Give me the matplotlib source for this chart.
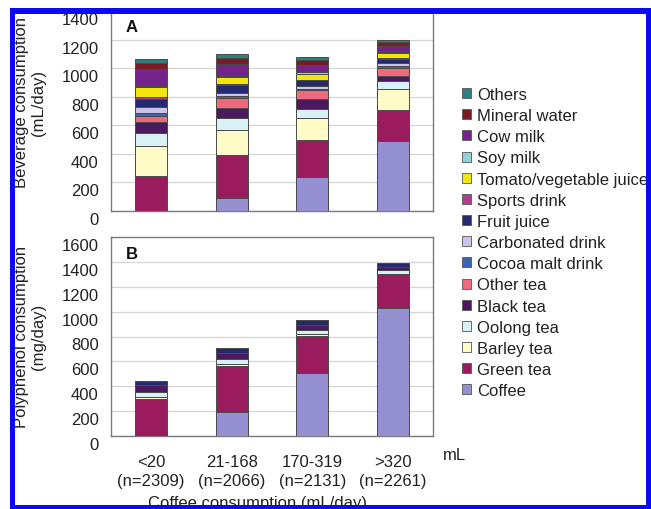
import matplotlib
matplotlib.use("Agg")
import matplotlib.pyplot as plt
import matplotlib.transforms as mtransforms
from matplotlib.patches import Patch, Rectangle
import numpy as np

plt.rcParams['font.family'] = ['Liberation Sans', 'DejaVu Sans']

categories = ['<20\n(n=2309)', '21-168\n(n=2066)', '170-319\n(n=2131)', '>320\n(n=2261)']

# stacking order bottom -> top
series_names = ['Coffee', 'Green tea', 'Barley tea', 'Oolong tea', 'Black tea', 'Other tea',
                'Cocoa malt drink', 'Carbonated drink', 'Fruit juice', 'Sports drink',
                'Tomato/vegetable juice', 'Soy milk', 'Cow milk', 'Mineral water', 'Others']
series_colors = ['#9590d2', '#9a1c5e', '#fffbc6', '#d8f1f4', '#4b1a5e', '#f0687c',
                 '#3b66b2', '#cbc4e8', '#232a6e', '#b0408f',
                 '#f3e60c', '#8fd2d8', '#74238a', '#7a1a22', '#2f7f80']

# Panel A: beverage consumption (mL/day)
coffee_A = [0, 88, 238, 490]
green_A = [245, 301, 257, 220]
barley_A = [210, 175, 156, 142]
oolong_A = [89, 84, 63, 58]
black_A = [82, 75, 70, 38]
othertea_A = [40, 65, 61, 54]
cocoa_A = [18, 16, 9, 16]
carbon_A = [47, 23, 23, 19]
fruit_A = [51, 54, 37, 28]
sports_A = [14, 9, 5, 5]
tomato_A = [70, 47, 42, 35]
soy_A = [9, 7, 9, 5]
cow_A = [119, 82, 54, 47]
mineral_A = [40, 47, 35, 23]
others_A = [28, 28, 19, 19]

# Panel B: polyphenol consumption (mg/day)
coffee_B = [0, 195, 504, 1030]
green_B = [301, 368, 304, 261]
barley_B = [13, 13, 13, 13]
oolong_B = [40, 40, 35, 30]
black_B = [60, 48, 35, 25]
othertea_B = [0, 0, 0, 0]
cocoa_B = [0, 0, 0, 0]
carbon_B = [0, 0, 0, 0]
fruit_B = [30, 45, 45, 32]
sports_B = [0, 0, 0, 0]
tomato_B = [0, 0, 0, 0]
soy_B = [0, 0, 0, 0]
cow_B = [0, 0, 0, 0]
mineral_B = [0, 0, 0, 0]
others_B = [0, 0, 0, 0]

data_A = [coffee_A, green_A, barley_A, oolong_A, black_A, othertea_A, cocoa_A, carbon_A,
          fruit_A, sports_A, tomato_A, soy_A, cow_A, mineral_A, others_A]
data_B = [coffee_B, green_B, barley_B, oolong_B, black_B, othertea_B, cocoa_B, carbon_B,
          fruit_B, sports_B, tomato_B, soy_B, cow_B, mineral_B, others_B]

W, H = 651, 510
fig = plt.figure(figsize=(W / 100, H / 100), dpi=100)
fig.patch.set_facecolor('white')

def fx(px):
    return px / W

def fy(py):
    return 1 - py / H

axA = fig.add_axes([fx(111), fy(212), fx(433) - fx(111), fy(12) - fy(212)])
axB = fig.add_axes([fx(111), fy(437), fx(433) - fx(111), fy(238) - fy(437)])

x = np.arange(len(categories))
txtc = '#222222'

def draw(ax, data, ymax):
    bottom = np.zeros(len(categories))
    for vals, col in zip(data, series_colors):
        v = np.array(vals, dtype=float)
        ax.bar(x, v, width=0.4, bottom=bottom, color=col, edgecolor='#4a4a4a',
               linewidth=0.7, zorder=3)
        bottom += v
    ax.set_xlim(-0.5, 3.5)
    ax.set_ylim(0, ymax)
    ax.set_yticks(np.arange(0, ymax + 1, 200))
    ax.yaxis.grid(True, color='#d4d4d4', linewidth=0.9, zorder=0)
    ax.set_axisbelow(True)
    for s in ax.spines.values():
        s.set_color('#7a7a7a')
        s.set_linewidth(1.0)
    ax.tick_params(axis='y', length=0, pad=9, labelsize=12, labelcolor=txtc)
    off = mtransforms.ScaledTranslation(0, -7 / 100, fig.dpi_scale_trans)
    for lab in ax.get_yticklabels():
        lab.set_transform(lab.get_transform() + off)

draw(axA, data_A, 1400)
draw(axB, data_B, 1600)

axA.set_xticks([])
axB.set_xticks(x)
axB.set_xticklabels(categories, fontsize=12, color=txtc, linespacing=1.3)
axB.tick_params(axis='x', length=0, pad=13)

axA.text(0.045, 0.92, 'A', transform=axA.transAxes, fontsize=12, fontweight='bold',
         va='center', ha='left', color='#111111')
axB.text(0.045, 0.915, 'B', transform=axB.transAxes, fontsize=12, fontweight='bold',
         va='center', ha='left', color='#111111')

fig.text(fx(30), fy(103), 'Beverage consumption\n(mL/day)', rotation=90, ha='center',
         va='center', fontsize=12, color=txtc, linespacing=1.15)
fig.text(fx(30), fy(337), 'Polyphenol consumption\n(mg/day)', rotation=90, ha='center',
         va='center', fontsize=12, color=txtc, linespacing=1.15)

fig.text(fx(443), fy(456), 'mL', ha='left', va='center', fontsize=12, color=txtc)
fig.text(fx(257), fy(504), 'Coffee consumption (mL/day)', ha='center', va='center',
         fontsize=12, color=txtc)

handles = [Patch(facecolor=c, edgecolor='#555555', linewidth=0.6, label=n)
           for n, c in zip(series_names, series_colors)][::-1]
fig.legend(handles=handles, loc='upper left', bbox_to_anchor=(fx(462), fy(88)),
           frameon=False, fontsize=12, handlelength=0.55, handleheight=0.55,
           handletextpad=0.35, labelspacing=0.37, borderaxespad=0, borderpad=0,
           labelcolor=txtc)

# outer white margins and blue frame
blue = '#0a0af5'
fig.add_artist(Rectangle((0, fy(9)), 1, 1 - fy(9), transform=fig.transFigure,
                         facecolor='white', edgecolor='none', zorder=50))
fig.add_artist(Rectangle((0, 0), fx(10), 1, transform=fig.transFigure,
                         facecolor='white', edgecolor='none', zorder=50))
fig.add_artist(Rectangle((fx(10), fy(15)), 1 - fx(10), fy(9) - fy(15), transform=fig.transFigure,
                         facecolor=blue, edgecolor='none', zorder=60))
fig.add_artist(Rectangle((fx(10), 0), fx(15) - fx(10), fy(9), transform=fig.transFigure,
                         facecolor=blue, edgecolor='none', zorder=60))
fig.add_artist(Rectangle((fx(646), 0), 1 - fx(646), fy(9), transform=fig.transFigure,
                         facecolor=blue, edgecolor='none', zorder=60))
fig.add_artist(Rectangle((fx(10), 0), 1 - fx(10), fy(506), transform=fig.transFigure,
                         facecolor=blue, edgecolor='none', zorder=60))

fig.savefig('out.png', dpi=100, facecolor='white')
